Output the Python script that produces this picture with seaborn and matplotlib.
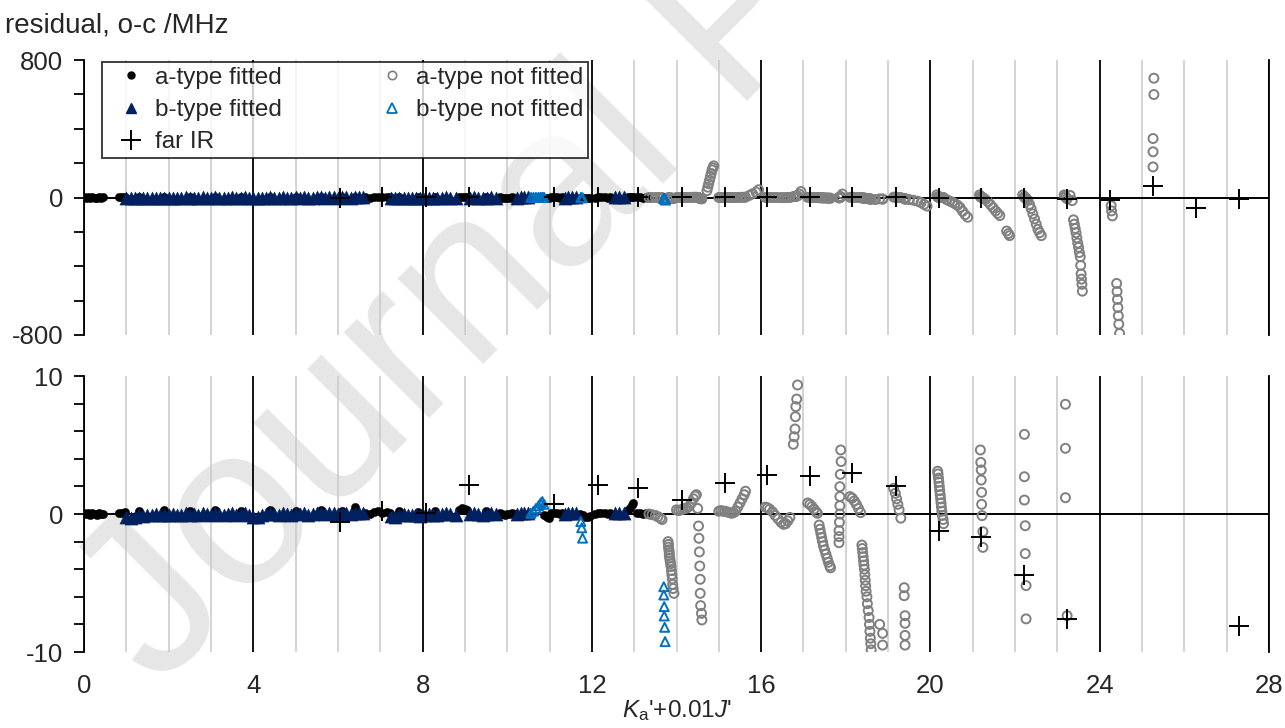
import numpy as np
import pandas as pd
import matplotlib
matplotlib.use("Agg")
import matplotlib.pyplot as plt
from matplotlib.lines import Line2D
import seaborn as sns

# --- data: x = Ka' + 0.01 J', residual o-c in MHz ---
a_fit_x = [0.00, 0.05, 0.10, 0.15, 0.20, 0.25, 0.30, 0.35, 0.40, 0.45, 0.82, 0.90, 0.96,
           1.30, 1.90, 2.50, 3.10, 3.70, 4.40, 5.00, 5.60, 6.10, 6.40,
           6.65, 6.75, 6.85, 6.95, 7.05, 7.15, 7.22, 7.45, 7.90, 8.30,
           8.85, 8.92, 9.00, 9.05, 9.50, 9.82, 9.88, 9.94, 10.00, 10.06, 10.12, 10.18,
           10.88, 10.94, 10.98, 11.03, 11.10, 11.17, 11.24, 11.30,
           11.72, 11.78, 11.84, 11.90, 11.95, 12.08, 12.15, 12.22, 12.30, 12.37, 12.43,
           12.85, 12.90, 12.95, 12.98, 13.06, 13.13, 13.20, 13.27, 13.33]
a_fit_y = [0.05, 0.00, 0.08, -0.05, 0.10, 0.00, -0.06, 0.05, 0.00, 0.02, 0.10, 0.05, 0.15,
           0.25, 0.30, 0.20, 0.30, 0.25, 0.30, 0.20, 0.30, 0.25, 0.50,
           0.10, 0.00, 0.15, 0.20, 0.10, 0.15, 0.05, 0.20, 0.15, 0.20,
           0.30, 0.40, 0.35, 0.30, 0.20, 0.05, 0.00, -0.05, 0.00, 0.00, 0.05, 0.00,
           -0.10, -0.25, -0.30, 0.10, 0.05, 0.10, 0.00, 0.05,
           0.00, -0.10, -0.20, -0.25, -0.15, 0.00, 0.10, 0.05, 0.10, 0.00, 0.05,
           0.30, 0.45, 0.65, 0.80, 0.05, 0.10, 0.00, 0.05, 0.00]

b_fit_x = [1.00, 1.10, 1.20, 1.30, 1.40, 1.50, 1.60, 1.70, 1.80, 1.90,
           2.00, 2.10, 2.20, 2.30, 2.40, 2.50, 2.60, 2.70, 2.80, 2.90,
           3.00, 3.10, 3.20, 3.30, 3.40, 3.50, 3.60, 3.70, 3.80, 3.90,
           4.00, 4.10, 4.20, 4.30, 4.40, 4.50, 4.60, 4.70, 4.80, 4.90,
           5.00, 5.10, 5.20, 5.30, 5.40, 5.50, 5.60, 5.70, 5.80, 5.90,
           6.00, 6.10, 6.20, 6.30, 6.40, 6.50, 6.60,
           7.25, 7.35, 7.45, 7.55, 7.65, 7.75, 7.85,
           7.95, 8.05, 8.15, 8.25, 8.35, 8.45, 8.55, 8.65, 8.78,
           9.12, 9.22, 9.32, 9.42, 9.52, 9.62, 9.74,
           10.24, 10.32, 10.40, 10.50,
           11.36, 11.44, 11.52, 11.62,
           12.55, 12.65, 12.75]
b_fit_y = [-0.25, -0.30, -0.20, -0.10, -0.15, -0.05, -0.10, 0.00, -0.05, -0.10,
           -0.05, 0.00, -0.10, -0.05, 0.05, -0.05, 0.00, -0.10, 0.05, 0.00,
           -0.05, 0.05, 0.00, -0.10, 0.00, 0.05, -0.05, 0.00, 0.05, -0.10,
           -0.20, -0.25, -0.10, 0.00, 0.05, 0.00, -0.05, 0.05, 0.00, -0.05,
           0.05, 0.00, 0.10, -0.05, 0.00, 0.05, 0.10, 0.00, 0.05, 0.10,
           0.00, 0.05, 0.10, 0.00, 0.05, 0.10, 0.05,
           -0.15, -0.20, -0.10, 0.00, -0.05, -0.10, -0.05,
           -0.15, -0.10, 0.00, -0.05, -0.10, 0.00, 0.05, 0.00, -0.10,
           0.00, 0.05, 0.00, -0.05, 0.00, 0.05, 0.00,
           0.00, 0.05, 0.10, 0.05,
           0.00, 0.05, 0.10, 0.05,
           0.05, 0.10, 0.05]

a_nofit_x = [13.35, 13.42, 13.50, 13.56, 13.62, 13.66,
             13.80, 13.81, 13.81, 13.82, 13.83, 13.83, 13.84, 13.85, 13.86, 13.87, 13.88,
             13.89, 13.90, 13.91, 13.92, 13.94,
             14.00, 14.05, 14.10, 14.15, 14.20, 14.25, 14.30, 14.35, 14.40, 14.44, 14.47,
             14.50, 14.52, 14.53, 14.54, 14.55, 14.56, 14.56, 14.57, 14.59, 14.60,
             14.72, 14.74, 14.76, 14.78, 14.80, 14.82, 14.84, 14.86, 14.88,
             15.00, 15.05, 15.10, 15.15, 15.20, 15.25, 15.30, 15.35, 15.40, 15.45, 15.50,
             15.55, 15.60, 15.63, 15.72, 15.80, 15.88, 15.94,
             16.10, 16.15, 16.20, 16.27, 16.33, 16.40, 16.47, 16.53, 16.58, 16.63, 16.68,
             16.76, 16.78, 16.80, 16.81, 16.82, 16.84, 16.86, 16.90, 16.94,
             17.10, 17.15, 17.20, 17.25, 17.30, 17.33,
             17.37, 17.39, 17.41, 17.43, 17.45, 17.47, 17.50, 17.53, 17.56, 17.59, 17.62, 17.64,
             17.84, 17.84, 17.84, 17.85, 17.86, 17.86, 17.86, 17.86, 17.87, 17.89, 17.88, 17.92,
             18.10, 18.15, 18.20, 18.25, 18.30, 18.35,
             18.38, 18.39, 18.40, 18.41, 18.42, 18.43, 18.44, 18.45, 18.46, 18.47, 18.48,
             18.50, 18.51, 18.53, 18.55, 18.56, 18.57, 18.58, 18.59, 18.60,
             18.70, 18.80, 18.87, 18.87,
             19.13, 19.17, 19.20, 19.23, 19.26, 19.30,
             19.38, 19.38, 19.40, 19.40, 19.40, 19.40,
             19.50, 19.60, 19.70, 19.78, 19.85, 19.92,
             20.15, 20.17, 20.18, 20.19, 20.20, 20.21, 20.22, 20.23, 20.24, 20.25, 20.26,
             20.27, 20.28, 20.30, 20.31,
             20.38, 20.45, 20.52, 20.58, 20.64, 20.70, 20.76, 20.82, 20.88,
             21.18, 21.19, 21.20, 21.20, 21.21, 21.21, 21.22, 21.24, 21.24,
             21.16, 21.30, 21.36, 21.42, 21.48, 21.54, 21.59, 21.64, 21.80, 21.84, 21.87,
             22.22, 22.22, 22.22, 22.24, 22.24, 22.26, 22.26,
             22.18, 22.30, 22.34, 22.38, 22.42, 22.46, 22.50, 22.54, 22.58, 22.62,
             23.19, 23.19, 23.19, 23.23,
             23.16, 23.30, 23.35, 23.38, 23.40, 23.42, 23.44, 23.46, 23.48, 23.50, 23.52,
             23.54, 23.55, 23.56, 23.57, 23.58, 23.59,
             24.27, 24.28, 24.30, 24.40, 24.41, 24.42, 24.43, 24.44, 24.45, 24.47,
             25.28, 25.28, 25.26, 25.26, 25.26]
a_nofit_y = [0.00, -0.05, -0.10, -0.20, -0.30, -0.40,
             -2.00, -2.20, -2.40, -2.60, -2.80, -3.00, -3.20, -3.40, -3.60, -3.80, -4.10,
             -4.40, -4.70, -5.10, -5.40, -5.75,
             0.30, 0.25, 0.30, 0.35, 0.40, 0.45, 0.55, 0.80, 1.10, 1.30, 1.40,
             0.40, -0.87, -1.76, -2.75, -3.77, -4.73, -5.75, -6.64, -7.20, -7.68,
             40, 60, 80, 100, 120, 140, 160, 172, 184,
             0.20, 0.25, 0.20, 0.20, 0.15, 0.10, 0.05, 0.10, 0.20, 0.50, 0.80,
             1.10, 1.40, 1.65, 12, 22, 32, 45,
             0.50, 0.45, 0.35, 0.15, -0.10, -0.35, -0.60, -0.75, -0.70, -0.50, -0.25,
             5.05, 5.60, 6.16, 7.05, 7.78, 8.33, 9.35, 20, 35,
             0.80, 0.70, 0.55, 0.35, 0.15, 0.05,
             -0.80, -1.10, -1.40, -1.70, -2.00, -2.30, -2.60, -2.90, -3.20, -3.50, -3.75, -3.90,
             -2.08, -1.64, -1.20, -0.60, 0.00, 0.60, 1.26, 1.98, 2.87, 3.80, 4.64, 20,
             1.26, 1.15, 0.95, 0.70, 0.40, 0.10,
             -2.25, -2.50, -2.80, -3.10, -3.40, -3.70, -4.00, -4.40, -4.80, -5.20, -5.60,
             -6.00, -6.50, -7.00, -7.50, -8.00, -8.50, -9.00, -9.40, -9.85,
             -12, -8, -8.65, -9.50,
             1.86, 1.50, 1.10, 0.70, 0.30, -0.30,
             -5.34, -5.92, -7.37, -7.92, -8.80, -9.50,
             -12, -16, -22, -30, -40, -50,
             15, 3.10, 2.90, 2.60, 2.30, 2.00, 1.70, 1.40, 1.10, 0.80, 0.50,
             0.20, -0.10, -0.40, -0.70,
             -12, -20, -28, -36, -45, -58, -80, -100, -115,
             4.64, 3.74, 3.19, 2.46, 1.57, 0.70, -0.12, -1.28, -2.42,
             15, -12, -25, -42, -60, -78, -92, -105, -195, -210, -222,
             5.77, 2.70, 1.01, -0.85, -2.87, -5.19, -7.60,
             15, -15, -40, -65, -95, -125, -155, -185, -205, -222,
             7.95, 4.76, 1.18, -7.37,
             15, 12, -18, -130, -155, -180, -205, -235, -265, -290, -320,
             -345, -395, -445, -475, -505, -545,
             -48, -78, -107, -500, -547, -593, -640, -688, -737, -791,
             694, 599, 343, 266, 178]

b_nofit_x = [10.56, 10.62, 10.68, 10.74, 10.79, 10.83, 10.87, 11.74, 11.76, 11.78,
             13.70, 13.70, 13.71, 13.71, 13.72, 13.73, 13.73, 13.74]
b_nofit_y = [0.05, 0.20, 0.40, 0.60, 0.80, 0.90, 0.70, -0.55, -1.00, -1.75,
             -5.27, -5.87, -6.71, -7.39, -8.21, -9.25, -12.0, -15.0]

ir_x = [6.05, 7.05, 8.07, 9.10, 11.10, 12.15, 13.10, 14.12, 15.15, 16.15, 17.15,
        18.15, 19.18, 20.20, 21.20, 22.20, 23.23, 24.24, 25.25, 26.27, 27.30]
ir_y = [-0.60, 0.20, 0.10, 2.10, 0.70, 2.10, 1.90, 1.05, 2.25, 2.85, 2.75,
        2.95, 2.00, -1.25, -1.70, -4.45, -7.60, -15.0, 68.0, -60.0, -8.10]

a_fit = pd.DataFrame({"x": a_fit_x, "y": a_fit_y})
b_fit = pd.DataFrame({"x": b_fit_x, "y": b_fit_y})
a_nofit = pd.DataFrame({"x": a_nofit_x, "y": a_nofit_y})
b_nofit = pd.DataFrame({"x": b_nofit_x, "y": b_nofit_y})
far_ir = pd.DataFrame({"x": ir_x, "y": ir_y})

NAVY = "#002060"
BLUE = "#0070C0"
GRAY = "#808080"

sns.set_style("white")
plt.rcParams["font.family"] = ["Liberation Sans", "DejaVu Sans"]
plt.rcParams["mathtext.fontset"] = "custom"
plt.rcParams["mathtext.rm"] = "Liberation Sans"
plt.rcParams["mathtext.it"] = "Liberation Sans:italic"
plt.rcParams["axes.unicode_minus"] = False
FS = 17.5
TICK_FS = 18.5

fig = plt.figure(figsize=(12.85, 7.28), dpi=100)
fig.patch.set_facecolor("white")

# watermark (cut off by the page edge, as in the source)
fig.text(158 / 1285, 1 - 690 / 728, "Journal Pre-proof", rotation=45, fontsize=165,
         color="#e6e6e6", ha="left", va="baseline", rotation_mode="anchor", zorder=-5)

ax1 = fig.add_axes([84 / 1285, 1 - 335 / 728, 1185 / 1285, 275 / 728])
ax2 = fig.add_axes([84 / 1285, 1 - 652 / 728, 1185 / 1285, 276 / 728])


def draw(ax):
    ax.patch.set_alpha(0)
    sns.scatterplot(data=a_fit, x="x", y="y", ax=ax, marker="o", s=36, color="black",
                    edgecolor="black", linewidth=0.3, zorder=3)
    sns.scatterplot(data=b_fit, x="x", y="y", ax=ax, marker="^", s=90, color=NAVY,
                    edgecolor=NAVY, linewidth=0.3, zorder=3)
    sns.scatterplot(data=a_nofit, x="x", y="y", ax=ax, marker="o", s=42, facecolor="none",
                    edgecolor=GRAY, linewidth=1.4, zorder=4)
    sns.scatterplot(data=b_nofit, x="x", y="y", ax=ax, marker="^", s=42, facecolor="none",
                    edgecolor=BLUE, linewidth=1.4, zorder=4)
    sns.scatterplot(data=far_ir, x="x", y="y", ax=ax, marker="+", s=200, color="black",
                    linewidth=1.4, zorder=5)
    ax.axhline(0, color="black", lw=1.4, zorder=2)
    ax.set_xlim(0, 28)
    ax.set_xticks(range(0, 29, 4))
    ax.set_xticks(range(0, 29), minor=True)
    ax.grid(False)
    ax.grid(which="minor", axis="x", color="#c8c8c8", lw=1.1)
    ax.grid(which="major", axis="x", color="black", lw=1.3)
    ax.set_axisbelow(True)
    ax.tick_params(axis="x", which="both", length=0, labelsize=TICK_FS, pad=16)
    ax.tick_params(axis="y", which="both", direction="out", length=7, width=1.3,
                   color="black", left=True, labelsize=TICK_FS, pad=8)
    for side in ["top", "bottom"]:
        ax.spines[side].set_visible(False)
    for side in ["left", "right"]:
        ax.spines[side].set_visible(True)
        ax.spines[side].set_color("black")
        ax.spines[side].set_linewidth(1.3)
    ax.set_xlabel("")
    ax.set_ylabel("")


draw(ax1)
ax1.set_ylim(-800, 800)
ax1.set_yticks([-800, 0, 800])
ax1.set_yticks([-600, -400, -200, 200, 400, 600], minor=True)
ax1.tick_params(axis="x", labelbottom=False)

draw(ax2)
ax2.set_ylim(-10, 10)
ax2.set_yticks([-10, 0, 10])
ax2.set_yticks([-8, -6, -4, -2, 2, 4, 6, 8], minor=True)
ax2.set_xlabel(r"$K_\mathrm{a}$'+0.01$J$'", fontsize=FS, labelpad=0)

fig.text(5 / 1285, 1 - 33 / 728, "residual, o-c /MHz", fontsize=20, va="baseline")

handles = [
    Line2D([], [], ls="none", marker="o", ms=5, color="black"),
    Line2D([], [], ls="none", marker="^", ms=7.5, color=NAVY),
    Line2D([], [], ls="none", marker="+", ms=14, mew=1.4, color="black"),
    Line2D([], [], ls="none", marker="o", ms=6, mfc="none", mec=GRAY, mew=1.2),
    Line2D([], [], ls="none", marker="^", ms=6.5, mfc="none", mec=BLUE, mew=1.3),
]
labels = ["a-type fitted", "b-type fitted", "far IR", "a-type not fitted", "b-type not fitted"]
leg = ax1.legend(handles, labels, ncol=2, loc="upper left", bbox_to_anchor=(0.0152, 0.993),
                 borderaxespad=0, fontsize=FS, frameon=True, fancybox=False,
                 edgecolor="black", borderpad=0.2, handlelength=2.0, handletextpad=0.0,
                 columnspacing=3.5, labelspacing=0.42)
leg.get_frame().set_linewidth(1.3)
leg.set_zorder(10)

fig.savefig("out.png", dpi=100)
